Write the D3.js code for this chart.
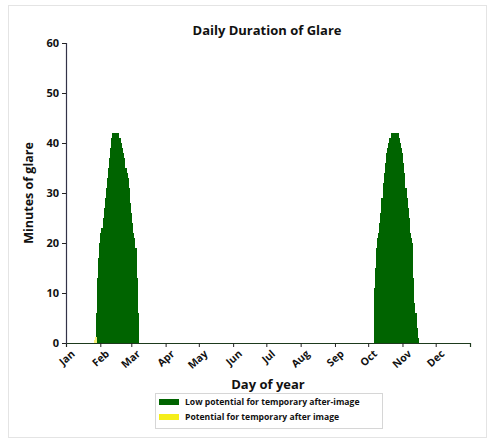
<!DOCTYPE html>
<html>
<head>
<meta charset="utf-8">
<script src="https://cdn.jsdelivr.net/npm/d3@7"></script>
<style>
  body { margin: 0; background: #fff; }
  text { font-family: "Open Sans", "DejaVu Sans", sans-serif; fill: #111; }
</style>
</head>
<body>
<div id="chart"></div>
<script>
var svgWidth = 495;
var svgHeight = 442;

// month tick labels at the first day of each month
var monthLabels = ["Jan", "Feb", "Mar", "Apr", "May", "Jun", "Jul", "Aug", "Sep", "Oct", "Nov", "Dec"];
var monthStarts = [0, 31, 59, 90, 120, 151, 181, 212, 243, 273, 304, 334];

// low potential (green) - late Jan to early Mar
var febStart = 27;
var febMinutes = [6, 13, 17, 20, 22, 23, 25, 27, 29, 31, 33, 35, 37, 39, 41, 42, 42, 42, 42, 42,
  41, 41, 40, 39, 38, 37, 35, 34, 33, 31, 28, 26, 24, 22, 21, 19, 13, 6];

// low potential (green) - Oct to mid Nov
var octStart = 278;
var octMinutes = [11, 15, 19, 21, 22, 24, 26, 29, 32, 34, 36, 38, 39, 40, 41, 41, 42, 42, 42, 42,
  42, 42, 41, 40, 39, 38, 36, 34, 31, 29, 27, 25, 22, 21, 20, 13, 8, 6, 3, 1];

// potential for after image (yellow)
var yellowDays = [25, 26];
var yellowMinutes = [0.6, 1.2];

var yTicks = [0, 10, 20, 30, 40, 50, 60];

var margin = { top: 43, right: 25, bottom: 99, left: 66 };
var width = svgWidth - margin.left - margin.right;
var height = svgHeight - margin.top - margin.bottom;

var svg = d3.select("#chart")
  .append("svg")
  .attr("width", svgWidth)
  .attr("height", svgHeight);

// light frame around the figure
svg.append("rect")
  .attr("x", 8.5).attr("y", 5.5)
  .attr("width", 478).attr("height", 432)
  .attr("fill", "#fff")
  .attr("stroke", "#e4e4e4");

var chart = svg.append("g")
  .attr("transform", "translate(" + margin.left + "," + margin.top + ")");

var x = d3.scaleLinear().domain([0, 365]).range([0, width]);
var y = d3.scaleLinear().domain([0, 60]).range([height, 0]);

var lowData = [];
febMinutes.forEach(function (v, i) { lowData.push({ day: febStart + i, value: v }); });
octMinutes.forEach(function (v, i) { lowData.push({ day: octStart + i, value: v }); });

var yellowData = yellowDays.map(function (d, i) { return { day: d, value: yellowMinutes[i] }; });

var barW = x(1) - x(0);

var bars = chart.append("g").attr("shape-rendering", "crispEdges");

bars.selectAll(".low")
  .data(lowData)
  .enter()
  .append("rect")
  .attr("class", "low")
  .attr("x", function (d) { return x(d.day); })
  .attr("y", function (d) { return y(d.value); })
  .attr("width", barW + 0.8)
  .attr("height", function (d) { return y(0) - y(d.value); })
  .attr("fill", "#006400");

bars.selectAll(".yel")
  .data(yellowData)
  .enter()
  .append("rect")
  .attr("class", "yel")
  .attr("x", function (d) { return x(d.day); })
  .attr("y", function (d) { return y(d.value); })
  .attr("width", barW + 0.8)
  .attr("height", function (d) { return y(0) - y(d.value); })
  .attr("fill", "#f7f17a");

// axes
var xAxis = d3.axisBottom(x)
  .tickValues(monthStarts)
  .tickSize(4)
  .tickFormat(function (d, i) { return monthLabels[i]; });

var gx = chart.append("g")
  .attr("transform", "translate(0," + height + ")")
  .call(xAxis);
gx.select(".domain").attr("stroke", "#1d3a1d").attr("stroke-width", 1.2);
gx.selectAll(".tick line").attr("stroke", "#222");
gx.selectAll(".tick text")
  .style("font-size", "10.5px")
  .style("font-weight", "700")
  .attr("text-anchor", "end")
  .attr("dx", "-0.1em")
  .attr("dy", "0.75em")
  .attr("transform", "rotate(-42)");

var yAxis = d3.axisLeft(y).tickValues(yTicks).tickSize(4);
var gy = chart.append("g").call(yAxis);
gy.select(".domain").attr("stroke", "#333348").attr("stroke-width", 1.2);
gy.selectAll(".tick line").attr("stroke", "#222");
gy.selectAll(".tick text")
  .style("font-size", "11px")
  .style("font-weight", "700");

// labels
svg.append("text")
  .attr("x", 267).attr("y", 35)
  .attr("text-anchor", "middle")
  .style("font-size", "13px")
  .style("font-weight", "700")
  .text("Daily Duration of Glare");

svg.append("text")
  .attr("transform", "translate(33," + (margin.top + height / 2) + ") rotate(-90)")
  .attr("text-anchor", "middle")
  .style("font-size", "12.5px")
  .style("font-weight", "700")
  .text("Minutes of glare");

svg.append("text")
  .attr("x", 268).attr("y", 389)
  .attr("text-anchor", "middle")
  .style("font-size", "13px")
  .style("font-weight", "700")
  .text("Day of year");

// legend
var legend = svg.append("g").attr("transform", "translate(155,393)");
legend.append("rect")
  .attr("x", 0.5).attr("y", 0.5)
  .attr("width", 227).attr("height", 35)
  .attr("fill", "#fff")
  .attr("stroke", "#d6d6d6");

var legendItems = [
  { label: "Low potential for temporary after-image", color: "#006400" },
  { label: "Potential for temporary after image", color: "#f5ee1a" }
];

legendItems.forEach(function (item, i) {
  legend.append("rect")
    .attr("x", 4).attr("y", 6 + i * 15)
    .attr("width", 20).attr("height", 6)
    .attr("fill", item.color);
  legend.append("text")
    .attr("x", 30).attr("y", 12 + i * 15)
    .style("font-size", "8.6px")
    .style("font-weight", "700")
    .text(item.label);
});
</script>
</body>
</html>
